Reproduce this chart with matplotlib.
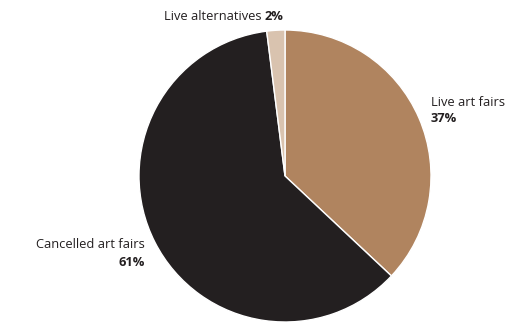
import matplotlib.pyplot as plt

labels = ['Live art fairs', 'Cancelled art fairs', 'Live alternatives']
shares = [37, 61, 2]
colors = ['#B0845F', '#231F20', '#D9C3AF']

plt.rcParams['font.family'] = ['Open Sans', 'DejaVu Sans']

W, H = 525, 323
fig = plt.figure(figsize=(W / 100, H / 100), dpi=100)
ax = fig.add_axes([0, 0, 1, 1])
ax.set_xlim(0, W)
ax.set_ylim(0, H)
ax.set_aspect('equal')
ax.axis('off')

# pie in pixel coordinates (y measured from bottom)
ax.pie(shares, colors=colors, startangle=90, counterclock=False,
       center=(285, H - 176), radius=146,
       wedgeprops=dict(edgecolor='white', linewidth=1))
ax.set_xlim(0, W)
ax.set_ylim(0, H)

txt = dict(fontsize=9.3, color='#231F20', va='center')

# Live alternatives
ax.text(262, H - 16, labels[2], ha='right', **txt)
ax.text(265, H - 16, f'{shares[2]}%', ha='left', fontweight='bold', **txt)

# Live art fairs
ax.text(431, H - 103, labels[0], ha='left', **txt)
ax.text(431, H - 119, f'{shares[0]}%', ha='left', fontweight='bold', **txt)

# Cancelled art fairs
ax.text(145, H - 245, labels[1], ha='right', **txt)
ax.text(145, H - 262, f'{shares[1]}%', ha='right', fontweight='bold', **txt)

fig.savefig('out.png', dpi=100)
